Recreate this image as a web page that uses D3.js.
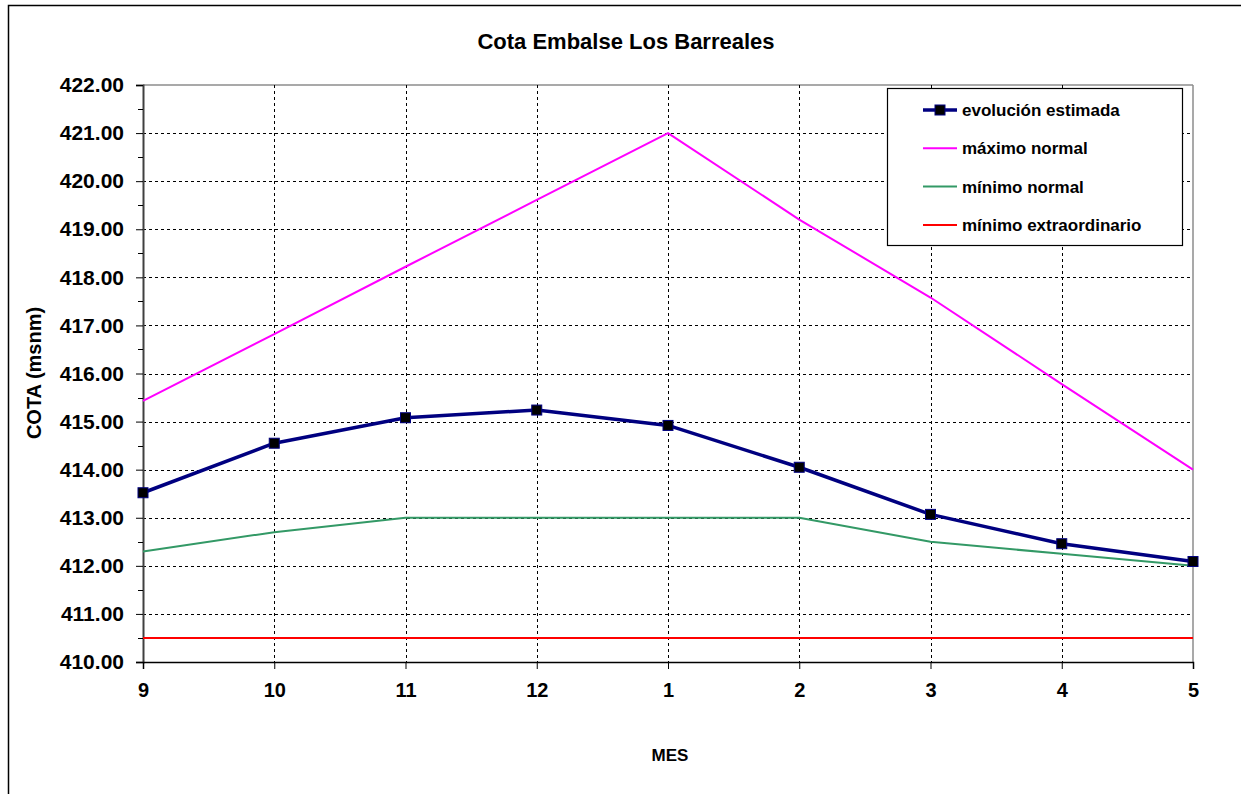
<!DOCTYPE html>
<html>
<head>
<meta charset="utf-8">
<script src="https://cdn.jsdelivr.net/npm/d3@7"></script>
<style>
  html, body { margin: 0; padding: 0; background: #fff; }
  svg { display: block; font-family: "Liberation Sans", Arial, sans-serif; font-weight: bold; }
</style>
</head>
<body>
<svg id="chart" width="1241" height="794"></svg>
<script>
// Months of the hydrological season (September to May)
const months = ["9", "10", "11", "12", "1", "2", "3", "4", "5"];

// Reservoir level series, metres above sea level
const evolucionEstimada   = [413.52, 414.55, 415.08, 415.24, 414.92, 414.05, 413.07, 412.46, 412.09];
const maximoNormal        = [415.43, 416.82, 418.22, 419.61, 421.00, 419.20, 417.58, 415.78, 414.00];
const minimoNormal        = [412.30, 412.70, 413.00, 413.00, 413.00, 413.00, 412.50, 412.25, 412.00];
const minimoExtraordinario = [410.50, 410.50, 410.50, 410.50, 410.50, 410.50, 410.50, 410.50, 410.50];

const yTicks = [410, 411, 412, 413, 414, 415, 416, 417, 418, 419, 420, 421, 422];
const yMinorTicks = [410.5, 411.5, 412.5, 413.5, 414.5, 415.5, 416.5, 417.5, 418.5, 419.5, 420.5, 421.5];

const series = [
  { name: "mínimo extraordinario", values: minimoExtraordinario, color: "#ff0000", width: 2 },
  { name: "mínimo normal",         values: minimoNormal,         color: "#339966", width: 2 },
  { name: "máximo normal",         values: maximoNormal,         color: "#ff00ff", width: 2 },
  { name: "evolución estimada",    values: evolucionEstimada,    color: "#000080", width: 3.5, marker: true }
];
const legendOrder = ["evolución estimada", "máximo normal", "mínimo normal", "mínimo extraordinario"];

const svg = d3.select("#chart");
const plot = { left: 143, right: 1193, top: 85, bottom: 662 };

const x = d3.scalePoint().domain(months).range([plot.left, plot.right]);
const y = d3.scaleLinear().domain([410, 422]).range([plot.bottom, plot.top]);

// Outer chart frame (runs off the right and bottom edges)
svg.append("rect")
  .attr("x", 8.5).attr("y", 5.5)
  .attr("width", 1300).attr("height", 900)
  .attr("fill", "none").attr("stroke", "#000").attr("stroke-width", 1.5);

// Title
svg.append("text")
  .attr("x", 626).attr("y", 49)
  .attr("text-anchor", "middle")
  .attr("font-size", 22)
  .text("Cota Embalse Los Barreales");

// Plot frame: top and right in grey
svg.append("line")
  .attr("x1", plot.left).attr("x2", plot.right)
  .attr("y1", plot.top).attr("y2", plot.top)
  .attr("stroke", "#8c8c8c").attr("stroke-width", 1.5);
svg.append("line")
  .attr("x1", plot.right).attr("x2", plot.right)
  .attr("y1", plot.top).attr("y2", plot.bottom)
  .attr("stroke", "#8c8c8c").attr("stroke-width", 1.5);

// Horizontal dashed gridlines
svg.append("g")
  .selectAll("line")
  .data(yTicks.filter(d => d !== 410 && d !== 422))
  .join("line")
  .attr("x1", plot.left).attr("x2", plot.right)
  .attr("y1", d => Math.round(y(d)) + 0.5).attr("y2", d => Math.round(y(d)) + 0.5)
  .attr("stroke", "#000").attr("stroke-width", 1)
  .attr("stroke-dasharray", "3,3");

// Vertical dashed gridlines
svg.append("g")
  .selectAll("line")
  .data(months.slice(1, -1))
  .join("line")
  .attr("x1", d => Math.round(x(d)) + 0.5).attr("x2", d => Math.round(x(d)) + 0.5)
  .attr("y1", plot.top).attr("y2", plot.bottom)
  .attr("stroke", "#000").attr("stroke-width", 1)
  .attr("stroke-dasharray", "3,3");

// Y axis with major labels
const yAxis = d3.axisLeft(y)
  .tickValues(yTicks)
  .tickSize(7)
  .tickPadding(12)
  .tickFormat(d3.format(".2f"));
const gy = svg.append("g")
  .attr("transform", `translate(${plot.left},0)`)
  .call(yAxis);
gy.select(".domain").attr("stroke", "#404040").attr("stroke-width", 2);
gy.selectAll(".tick line").attr("stroke", "#000");
gy.selectAll(".tick text")
  .attr("font-size", 21).attr("font-weight", "bold")
  .attr("font-family", "Liberation Sans, Arial, sans-serif")
  .attr("fill", "#000");

// Y minor ticks
svg.append("g")
  .selectAll("line")
  .data(yMinorTicks)
  .join("line")
  .attr("x1", plot.left - 5).attr("x2", plot.left)
  .attr("y1", d => Math.round(y(d)) + 0.5).attr("y2", d => Math.round(y(d)) + 0.5)
  .attr("stroke", "#000").attr("stroke-width", 1);

// X axis
const xAxis = d3.axisBottom(x).tickSize(7).tickPadding(14);
const gx = svg.append("g")
  .attr("transform", `translate(0,${plot.bottom})`)
  .call(xAxis);
gx.select(".domain").attr("stroke", "#000").attr("stroke-width", 1.5);
gx.selectAll(".tick line").attr("stroke", "#000");
gx.selectAll(".tick text")
  .attr("font-size", 20).attr("font-weight", "bold")
  .attr("font-family", "Liberation Sans, Arial, sans-serif")
  .attr("fill", "#000");

// Axis titles
svg.append("text")
  .attr("transform", "translate(41,373) rotate(-90)")
  .attr("text-anchor", "middle")
  .attr("font-size", 20)
  .text("COTA (msnm)");
svg.append("text")
  .attr("x", 670).attr("y", 761)
  .attr("text-anchor", "middle")
  .attr("font-size", 17)
  .text("MES");

// Series lines
const line = d3.line()
  .x((d, i) => x(months[i]))
  .y(d => y(d));

svg.append("g")
  .selectAll("path")
  .data(series)
  .join("path")
  .attr("d", d => line(d.values))
  .attr("fill", "none")
  .attr("stroke", d => d.color)
  .attr("stroke-width", d => d.width)
  .attr("stroke-linejoin", "round");

// Square markers on the estimated evolution
const est = series.find(s => s.marker);
svg.append("g")
  .selectAll("rect")
  .data(est.values)
  .join("rect")
  .attr("x", (d, i) => x(months[i]) - 5)
  .attr("y", d => y(d) - 5)
  .attr("width", 10).attr("height", 10)
  .attr("fill", "#000")
  .attr("stroke", "#000080").attr("stroke-width", 1);

// Legend
const legend = svg.append("g").attr("transform", "translate(887,88)");
legend.append("rect")
  .attr("x", 0.5).attr("y", 0.5)
  .attr("width", 295).attr("height", 157)
  .attr("fill", "#fff").attr("stroke", "#000").attr("stroke-width", 1.2);

const rows = legend.selectAll("g.row")
  .data(legendOrder.map(n => series.find(s => s.name === n)))
  .join("g")
  .attr("class", "row")
  .attr("transform", (d, i) => `translate(0,${22 + i * 38.3})`);

rows.append("line")
  .attr("x1", 36).attr("x2", 70)
  .attr("y1", 0).attr("y2", 0)
  .attr("stroke", d => d.color)
  .attr("stroke-width", d => d.width);
rows.filter(d => d.marker).append("rect")
  .attr("x", 48).attr("y", -5)
  .attr("width", 10).attr("height", 10)
  .attr("fill", "#000").attr("stroke", "#000080");
rows.append("text")
  .attr("x", 75).attr("y", 6)
  .attr("font-size", 17)
  .text(d => d.name);
</script>
</body>
</html>
